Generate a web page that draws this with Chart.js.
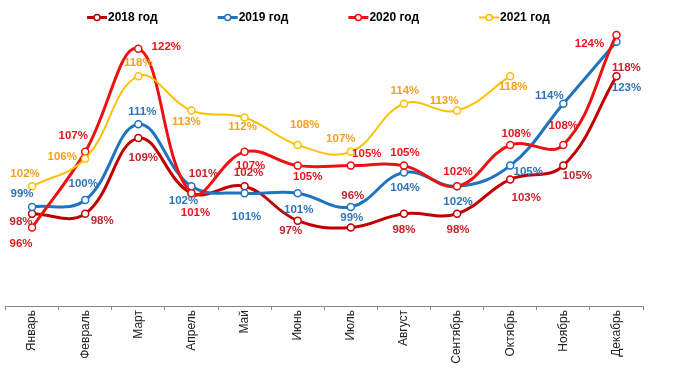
<!DOCTYPE html>
<html>
<head>
<meta charset="utf-8">
<script src="https://cdn.jsdelivr.net/npm/chart.js@4.4.1/dist/chart.umd.min.js"></script>
<style>
  html, body { margin: 0; padding: 0; background: #fff; }
</style>
</head>
<body>
<canvas id="chart" width="680" height="369"></canvas>
<script>
const months = ['Январь', 'Февраль', 'Март', 'Апрель', 'Май', 'Июнь', 'Июль', 'Август', 'Сентябрь', 'Октябрь', 'Ноябрь', 'Декабрь'];
const seriesNames = ['2018 год', '2019 год', '2020 год', '2021 год'];
const values2018 = [98, 98, 109, 101, 102, 97, 96, 98, 98, 103, 105, 118];
const values2019 = [99, 100, 111, 102, 101, 101, 99, 104, 102, 105, 114, 123];
const values2020 = [96, 107, 122, 101, 107, 105, 105, 105, 102, 108, 108, 124];
const values2021 = [102, 106, 118, 113, 112, 108, 107, 114, 113, 118, null, null];

// styling
const lineColors = ['#C00000', '#1F74C0', '#EE1111', '#FFC000'];
const labelColors = ['#C0262D', '#2E75B6', '#E8161E', '#F5A020'];
const lineWidths = [3, 3, 3, 2];
const fontFamily = '"Liberation Sans", Arial, sans-serif';

// label offsets from the point, px
const labelOffsets = [
  [[-11, 8], [17, 7], [5, 20], [12, -19], [4, -13], [-7, 10], [2, -32], [0, 16], [1, 16], [16, 18], [14, 10], [10, -8]],
  [[-10, -13], [-2, -16], [4, -13], [-8, 15], [2, 24], [1, 17], [1, 11], [1, 15], [1, 16], [18, 6], [-14, -8], [10, 46]],
  [[-11, 16], [-12, -16], [28, -2], [4, 20], [6, 14], [10, 11], [16, -12], [1, -13], [1, -14], [6, -11], [0, -19], [-27, 9]],
  [[-7, -12], [-23, -2], [0, -13], [-5, 11], [-2, 9], [7, -20], [-10, -13], [1, -13], [-13, -10], [3, 11], [0, 0], [0, 0]]
];

const allValues = [values2018, values2019, values2020, values2021];

const pointLabels = {
  id: 'pointLabels',
  afterDatasetsDraw(chart) {
    const ctx = chart.ctx;
    ctx.save();
    ctx.font = 'bold 11.5px ' + fontFamily;
    ctx.textAlign = 'center';
    ctx.textBaseline = 'middle';
    chart.data.datasets.forEach((ds, i) => {
      const meta = chart.getDatasetMeta(i);
      meta.data.forEach((pt, j) => {
        const v = ds.data[j];
        if (v == null) return;
        const [dx, dy] = labelOffsets[i][j];
        ctx.fillStyle = labelColors[i];
        ctx.fillText(v + '%', pt.x + dx, pt.y + dy);
      });
    });

    // legend row
    ctx.font = 'bold 12px ' + fontFamily;
    ctx.textAlign = 'left';
    seriesNames.forEach((name, i) => {
      const x0 = 87 + i * 130.7;
      const y = 17.5;
      ctx.strokeStyle = lineColors[i];
      ctx.lineWidth = lineWidths[i];
      ctx.beginPath();
      ctx.moveTo(x0, y);
      ctx.lineTo(x0 + 20, y);
      ctx.stroke();
      ctx.beginPath();
      ctx.arc(x0 + 10, y, 3, 0, Math.PI * 2);
      ctx.fillStyle = '#fff';
      ctx.fill();
      ctx.lineWidth = 1.5;
      ctx.stroke();
      ctx.fillStyle = '#000';
      ctx.fillText(name, x0 + 21, y);
    });
    ctx.restore();
  }
};

const makeSet = (i, order) => ({
  label: seriesNames[i],
  data: allValues[i],
  borderColor: lineColors[i],
  borderWidth: lineWidths[i],
  pointRadius: 3.5,
  pointBackgroundColor: '#fff',
  pointBorderColor: lineColors[i],
  pointBorderWidth: 1.5,
  tension: 0.4,
  fill: false,
  order: order
});

new Chart(document.getElementById('chart'), {
  type: 'line',
  data: {
    labels: months,
    datasets: [makeSet(0, 3), makeSet(1, 2), makeSet(2, 1), makeSet(3, 0)]
  },
  options: {
    responsive: false,
    animation: false,
    layout: { padding: { top: 28, left: 2, right: 37, bottom: 0 } },
    plugins: {
      legend: { display: false },
      tooltip: { enabled: false }
    },
    scales: {
      x: {
        offset: true,
        grid: { offset: true, drawOnChartArea: false, tickLength: 4, color: '#868686' },
        border: { color: '#868686', width: 1 },
        ticks: {
          minRotation: 90, maxRotation: 90, autoSkip: false, padding: 0,
          color: '#222', font: { family: fontFamily, size: 12 }
        },
        afterFit(scale) { scale.height = 63; }
      },
      y: { display: false, min: 84.6, max: 125 }
    }
  },
  plugins: [pointLabels]
});
</script>
</body>
</html>
